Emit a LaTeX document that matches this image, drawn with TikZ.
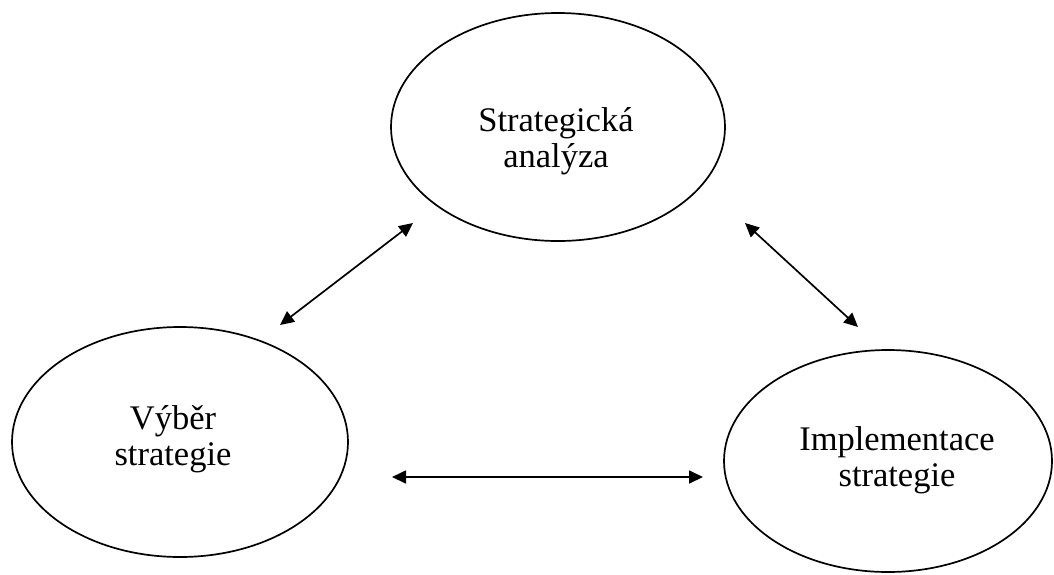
\documentclass[tikz,border=0pt]{standalone}
\usepackage{fontspec}
\setmainfont{Liberation Serif}
\usetikzlibrary{shapes.geometric,arrows.meta}
\begin{document}
\begin{tikzpicture}[x=1pt,y=-1pt,
  oval/.style={ellipse,draw,line width=1.7pt,inner sep=0pt},
  lbl/.style={align=center,font=\fontsize{34.5}{36}\selectfont},
  link/.style={line width=1.7pt,{Triangle[length=14pt,width=13pt]}-{Triangle[length=14pt,width=13pt]}}]
\useasboundingbox (0,0) rectangle (1054,574);
\node[oval,minimum width=334pt,minimum height=228pt] (sa) at (558,127) {};
\node[oval,minimum width=336pt,minimum height=230pt] (vs) at (180,442) {};
\node[oval,minimum width=328pt,minimum height=222pt] (is) at (888,461) {};
\node[lbl] (tsa) at (556,141) {Strategická\\analýza};
\node[lbl] (tvs) at (173,439) {Výběr\\strategie};
\node[lbl] (tis) at (897,460) {Implementace\\strategie};
\coordinate (a1) at (280,325);
\coordinate (a2) at (413,223);
\coordinate (b1) at (745,223);
\coordinate (b2) at (858,327);
\coordinate (c1) at (392,477);
\coordinate (c2) at (703,477);
\draw[link] (a1) -- (a2);
\draw[link] (b1) -- (b2);
\draw[link] (c1) -- (c2);
\end{tikzpicture}
\end{document}
